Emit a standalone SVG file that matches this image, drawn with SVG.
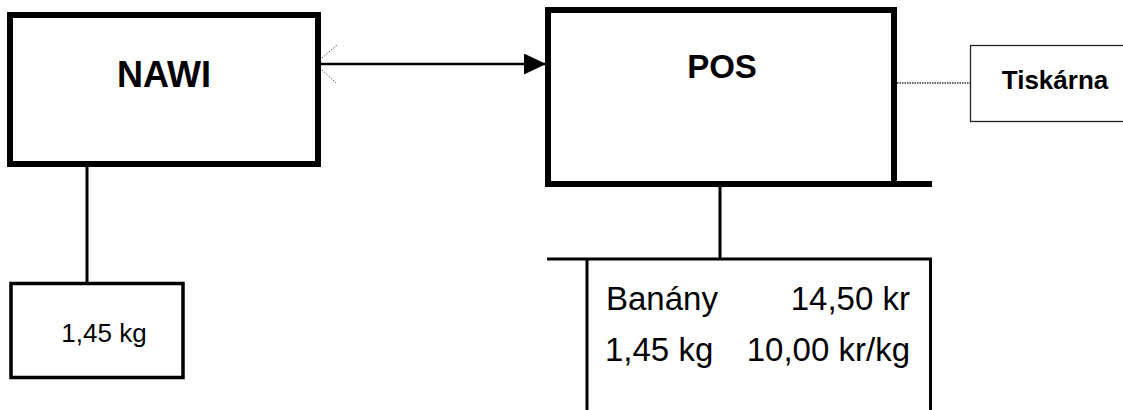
<svg xmlns="http://www.w3.org/2000/svg" width="1123" height="410" viewBox="0 0 1123 410">
<defs>
<style>
.box{fill:#fff;stroke:#000}
.t{font-family:"Liberation Sans",Arial,sans-serif;fill:#000}
.b{font-weight:bold}
.ln{stroke:#000;fill:none}
.dot{stroke:#333;fill:none;stroke-width:1.5;stroke-dasharray:1.5 1}
</style>
<marker id="ah" markerUnits="userSpaceOnUse" markerWidth="22" markerHeight="22" refX="22" refY="10.5" orient="auto">
<path d="M0,0 L22,10.5 L0,21 Z" fill="#000"/>
</marker>
</defs>
<rect width="1123" height="410" fill="#fff"/>
<g id="connectors">
<line class="ln" x1="321" y1="64" x2="546" y2="64" stroke-width="2.5" marker-end="url(#ah)"/>
<line stroke="#555" stroke-width="1" stroke-dasharray="1.5 1.5" x1="322" y1="58" x2="337" y2="45"/>
<line stroke="#555" stroke-width="1" stroke-dasharray="1.5 1.5" x1="322" y1="70" x2="336" y2="83"/>
<line class="dot" x1="897" y1="83" x2="970" y2="83"/>
<line class="ln" x1="87" y1="167" x2="87" y2="284" stroke-width="3"/>
<line class="ln" x1="720" y1="187" x2="720" y2="259" stroke-width="3"/>
<line class="ln" x1="894" y1="184" x2="932" y2="184" stroke-width="6"/>
</g>
<g id="nawi">
<rect class="box" x="10" y="15" width="308" height="149" stroke-width="6"/>
<text class="t b" x="164" y="87" font-size="36" text-anchor="middle">NAWI</text>
</g>
<g id="pos">
<rect class="box" x="548" y="10" width="346" height="174" stroke-width="6"/>
<text class="t b" x="722" y="78" font-size="33" text-anchor="middle">POS</text>
</g>
<g id="tiskarna">
<rect x="970.5" y="45.5" width="200" height="76" fill="#fff" stroke="#222" stroke-width="1.3"/>
<text class="t b" x="1055" y="89" font-size="26" text-anchor="middle">Tiskárna</text>
</g>
<g id="vaha">
<rect class="box" x="11" y="283.5" width="172" height="94" stroke-width="3.5"/>
<text class="t" x="104" y="341.5" font-size="26" text-anchor="middle">1,45 kg</text>
</g>
<g id="uctenka">
<path class="ln" d="M547,259 H930.5 V410 M587,259 V410" stroke-width="3"/>
<text class="t" x="606" y="310" font-size="33">Banány</text>
<text class="t" x="910" y="310" font-size="33" text-anchor="end">14,50 kr</text>
<text class="t" x="605" y="361" font-size="33">1,45 kg</text>
<text class="t" x="910" y="361" font-size="33" text-anchor="end">10,00 kr/kg</text>
</g>
</svg>
